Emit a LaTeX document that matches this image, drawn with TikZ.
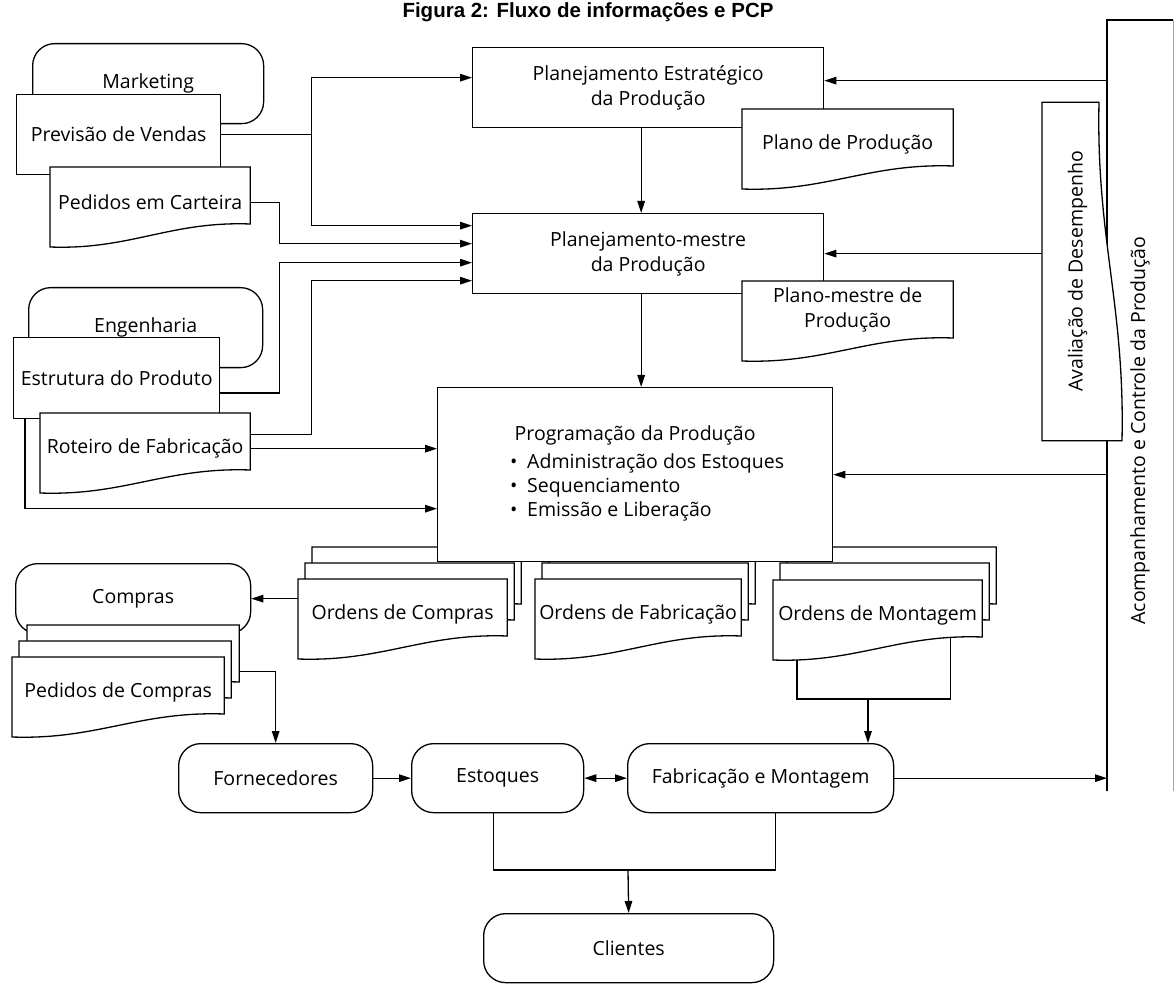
\documentclass[tikz,border=0pt]{standalone}
\usepackage{fontspec}
\setmainfont{Open Sans}
\newfontfamily\titlefont{Liberation Sans}
\usetikzlibrary{arrows.meta}

% document sheet with a wavy lower edge (57pt on the right, 80pt on the left)
\makeatletter
\pgfdeclareshape{docu}{
  \inheritsavedanchors[from=rectangle]
  \inheritanchorborder[from=rectangle]
  \inheritanchor[from=rectangle]{center}
  \inheritanchor[from=rectangle]{text}
  \inheritanchor[from=rectangle]{base}
  \inheritanchor[from=rectangle]{mid}
  \inheritanchor[from=rectangle]{north}
  \inheritanchor[from=rectangle]{south}
  \inheritanchor[from=rectangle]{east}
  \inheritanchor[from=rectangle]{west}
  \inheritanchor[from=rectangle]{north east}
  \inheritanchor[from=rectangle]{north west}
  \inheritanchor[from=rectangle]{south east}
  \inheritanchor[from=rectangle]{south west}
  \backgroundpath{%
    \southwest \edef\dcL{\the\pgf@x}%
    \northeast \edef\dcR{\the\pgf@x}\edef\dcT{\the\pgf@y}%
    \pgfpathmoveto{\pgfpoint{\dcL}{\dcT}}%
    \pgfpathlineto{\pgfpoint{\dcR}{\dcT}}%
    \pgfpathlineto{\pgfpoint{\dcR}{(\dcT)-57pt}}%
    \pgfpathcurveto{\pgfpoint{(\dcL)+0.6*((\dcR)-(\dcL))}{(\dcT)-54pt}}%
                   {\pgfpoint{(\dcL)+0.4*((\dcR)-(\dcL))}{(\dcT)-83pt}}%
                   {\pgfpoint{\dcL}{(\dcT)-80pt}}%
    \pgfpathclose
  }
}
\makeatother

\tikzset{
  bloco/.style={draw, fill=white, inner sep=0pt, align=center},
  setor/.style={draw, fill=white, rounded corners=22pt, inner sep=0pt, align=center},
  folha/.style={shape=docu, draw, fill=white, inner sep=0pt, minimum height=70pt, align=center},
  seta/.style={-{Triangle[length=12pt,width=7.5pt]}},
  setas/.style={{Triangle[length=12pt,width=7.5pt]}-{Triangle[length=12pt,width=7.5pt]}},
}

\begin{document}
\begin{tikzpicture}[x=1pt, y=-1pt, line width=1.3pt, font=\fontsize{19.5}{25}\selectfont]
    \useasboundingbox (0,0) rectangle (1176,984);

    % Title
    \node[font=\titlefont\bfseries\fontsize{20.5}{24}\selectfont] (titulo) at (588,12) {Figura 2: Fluxo de informações e PCP};

    % Marketing
    \node[setor, minimum width=231pt, minimum height=80pt, anchor=north west] (mkt) at (32,43) {\raisebox{4pt}{Marketing}};
    \node[bloco, minimum width=204pt, minimum height=80pt, anchor=north west] (prev) at (16,94) {Previsão de Vendas};
    \node[folha, minimum width=199pt, anchor=north west] (ped) at (50,167) {Pedidos em Carteira};

    % Engenharia
    \node[setor, minimum width=234pt, minimum height=80pt, anchor=north west] (eng) at (28,287) {\raisebox{4pt}{Engenharia}};
    \node[bloco, minimum width=206pt, minimum height=81pt, anchor=north west] (estr) at (13,337) {Estrutura do Produto};
    \node[folha, minimum width=209pt, anchor=north west] (rot) at (40,413) {Roteiro de Fabricação};

    % Planning levels
    \node[bloco, minimum width=351pt, minimum height=80pt, anchor=north west] (pe) at (472,47) {Planejamento Estratégico\\da Produção};
    \node[folha, minimum width=210pt, anchor=north west] (plano) at (742,109) {Plano de Produção};
    \node[bloco, minimum width=351pt, minimum height=80pt, anchor=north west] (pm) at (472,213) {Planejamento-mestre\\da Produção};
    \node[folha, minimum width=210pt, minimum height=57pt, anchor=north west] (pmestre) at (742,281) {Plano-mestre de\\Produção};

    % Order stacks (back sheets first)
    \foreach \nome/\x/\w in {ocomp/298/208, ofab/535/205, omont/773/208} {
        \node[folha, minimum width=\w pt, anchor=north west] (\nome3) at (\x+14,547) {};
        \node[folha, minimum width=\w pt, anchor=north west] (\nome2) at (\x+7,563) {};
    }
    \node[folha, minimum width=208pt, anchor=north west] (ocomp) at (298,579) {Ordens de Compras};
    \node[folha, minimum width=205pt, anchor=north west] (ofab) at (535,579) {Ordens de Fabricação};
    \node[folha, minimum width=208pt, anchor=north west] (omont) at (773,580) {Ordens de Montagem};

    % Scheduling
    \node[bloco, minimum width=395pt, minimum height=174pt, anchor=north west] (prog) at (437,387)
        {Programação da Produção\\[5pt]
         \begin{tabular}{@{\hspace{24pt}}l@{}}
         •\enspace Administração dos Estoques\\[-1pt]
         •\enspace Sequenciamento\\[-1pt]
         •\enspace Emissão e Liberação
         \end{tabular}};

    % Compras
    \node[setor, minimum width=235pt, minimum height=70pt, anchor=north west] (compras) at (15,563) {Compras};
    \node[folha, minimum width=211pt, anchor=north west] (pcomp3) at (27,625) {};
    \node[folha, minimum width=211pt, anchor=north west] (pcomp2) at (19,641) {};
    \node[folha, minimum width=211pt, anchor=north west] (pcomp) at (12,657) {Pedidos de Compras};

    % Control column
    \node[minimum width=65pt, minimum height=820pt, anchor=north west] (acomp) at (1107,20)
        {\rotatebox{90}{Acompanhamento e Controle da Produção}};
    \draw ([yshift=50pt]acomp.south west) -- (acomp.north west) -- (acomp.north east);
    \draw[black!35] (acomp.north east) -- ([yshift=50pt]acomp.south east);
    \node[folha, rotate=90, minimum width=337pt, anchor=north] (aval) at (1042,271.5) {Avaliação de Desempenho};

    % Shop floor
    \node[setor, minimum width=194pt, minimum height=69pt, anchor=north west] (forn) at (178,743) {Fornecedores};
    \node[setor, minimum width=172pt, minimum height=69pt, anchor=north west] (est) at (411,743) {Estoques};
    \node[setor, minimum width=266pt, minimum height=69pt, anchor=north west] (fab) at (627,743) {Fabricação e Montagem};
    \node[setor, minimum width=290pt, minimum height=69pt, anchor=north west] (cli) at (483,913) {Clientes};

    % Inputs to planning
    \draw (prev.east) -- ++(90,0) coordinate (jprev);
    \draw[seta] (jprev) |- ([yshift=10pt]pe.west);
    \draw[seta] (jprev) |- ([yshift=28pt]pm.west);
    \draw[seta] (ped.east) -- ++(29,0) |- ([yshift=10pt]pm.west);
    \draw[seta] ([yshift=-15pt]estr.east) -- ++(59,0) |- ([yshift=-9pt]pm.west);
    \draw[seta] ([yshift=14pt]rot.east) -- ++(61,0) |- ([yshift=-27pt]pm.west);
    \draw[seta] (rot.east) -- (rot.east -| prog.west);
    \draw[seta] ([xshift=12pt]estr.south west) |- ([yshift=-34pt]prog.west);

    % Down the hierarchy
    \draw[seta] ([xshift=-7pt]pe.south) -- ([xshift=-7pt]pm.north);
    \draw[seta] ([xshift=-7pt]pm.south) -- ([xshift=-7pt]pm.south |- prog.north);

    % Feedback from control
    \draw[seta] ([yshift=7pt]pe.east -| acomp.west) -- ([yshift=7pt]pe.east);
    \draw[seta] (pm.east -| aval.north) -- (pm.east);
    \draw[seta] (prog.east -| acomp.west) -- (prog.east);
    \draw[seta] (fab.east) -- (fab.east -| acomp.west);

    % Orders
    \draw[seta] (ocomp.west |- compras.east) -- (compras.east);
    \draw[seta] ([yshift=-11pt]pcomp3.east) -| (forn.north);
    \coordinate (jm) at (868,699);
    \draw ([shift={(24,80)}]omont.north west) |- (jm) -| ([shift={(-32,57)}]omont.north east);
    \draw[seta] (jm) -- (jm |- fab.north);

    % Material flow
    \draw[seta] (forn) -- (est);
    \draw[setas] (est) -- (fab);
    \coordinate (jc) at (628,870);
    \draw ([xshift=-4pt]est.south) |- (jc) -| ([xshift=15pt]fab.south);
    \draw[seta] (jc) -- (cli.north);
\end{tikzpicture}
\end{document}
